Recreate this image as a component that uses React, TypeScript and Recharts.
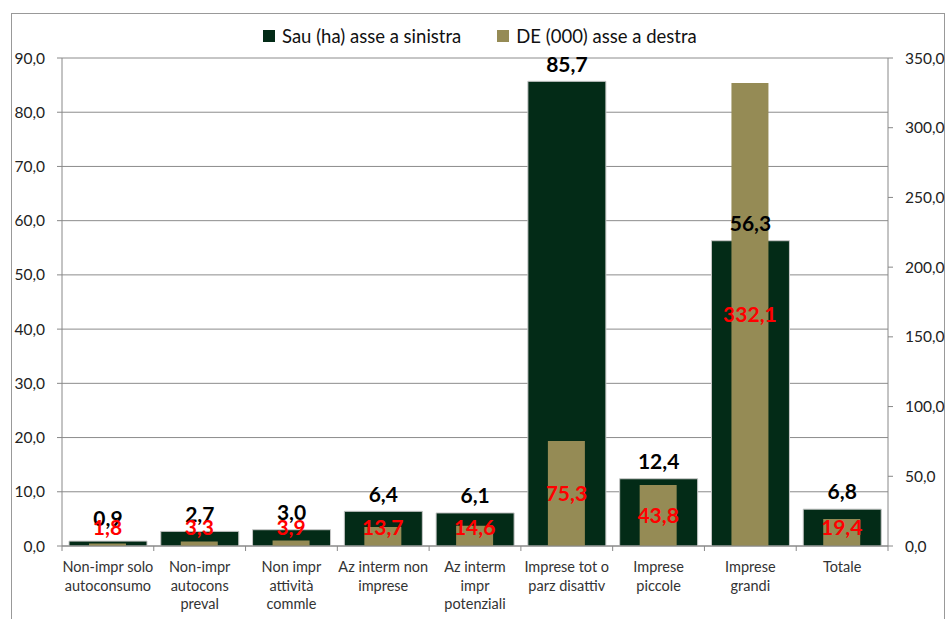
import React from "react";
import {
  BarChart,
  Bar,
  XAxis,
  YAxis,
  CartesianGrid,
  LabelList,
} from "recharts";

const categories = [
  "Non-impr solo\nautoconsumo",
  "Non-impr\nautocons\npreval",
  "Non impr\nattività\ncommle",
  "Az interm non\nimprese",
  "Az interm\nimpr\npotenziali",
  "Imprese tot o\nparz disattiv",
  "Imprese\npiccole",
  "Imprese\ngrandi",
  "Totale",
];
const sauValues = [0.9, 2.7, 3.0, 6.4, 6.1, 85.7, 12.4, 56.3, 6.8];
const deValues = [1.8, 3.3, 3.9, 13.7, 14.6, 75.3, 43.8, 332.1, 19.4];
const leftTicks = [0, 10, 20, 30, 40, 50, 60, 70, 80, 90];
const rightTicks = [0, 50, 100, 150, 200, 250, 300, 350];

const SAU_COLOR = "#032b17";
const DE_COLOR = "#958b55";
const FONT = "Lato, 'Open Sans', sans-serif";

const data = categories.map((cat, i) => ({
  cat,
  sau: sauValues[i],
  de: deValues[i],
}));

const fmt = (v: number) => v.toFixed(1).replace(".", ",");

// category names on several lines, with the small tick marks between categories
const CategoryTick = (props: any) => {
  const { x, y, payload, index } = props;
  const half = payload?.offset || 45.9;
  const lines = String(payload.value).split("\n");
  return (
    <g>
      <line x1={x - half} x2={x - half} y1={y - 8} y2={y - 3} stroke="#888" />
      {index === categories.length - 1 && (
        <line x1={x + half} x2={x + half} y1={y - 8} y2={y - 3} stroke="#888" />
      )}
      <text x={x} y={y + 18} textAnchor="middle" fontSize={14.5} fill="#333" fontFamily={FONT}>
        {lines.map((l, k) => (
          <tspan key={k} x={x} dy={k === 0 ? 0 : 18.5}>
            {l}
          </tspan>
        ))}
      </text>
    </g>
  );
};

// value above the green bar, kept clear of the axis for tiny bars
const SauLabel = (props: any) => {
  const { x, y, width, height, value } = props;
  const bottom = y + height;
  const cy = Math.min(y - 17, bottom - 27);
  return (
    <text
      x={x + width / 2}
      y={cy}
      dy="0.35em"
      textAnchor="middle"
      fontSize={21}
      fontWeight="bold"
      fill="#000"
      fontFamily={FONT}
    >
      {fmt(value)}
    </text>
  );
};

// value centred in the olive bar, lifted when the bar is too short
const DeLabel = (props: any) => {
  const { x, y, width, height, value } = props;
  const bottom = y + height;
  const cy = Math.min(y + height / 2, bottom - 18);
  return (
    <text
      x={x + width / 2}
      y={cy}
      dy="0.35em"
      textAnchor="middle"
      fontSize={21}
      fontWeight="bold"
      fill="#ff0000"
      fontFamily={FONT}
    >
      {fmt(value)}
    </text>
  );
};

const LegendItem = ({ color, text }: { color: string; text: string }) => (
  <div style={{ display: "flex", alignItems: "center", marginRight: 36 }}>
    <div style={{ width: 12, height: 12, background: color, marginRight: 7 }} />
    <span>{text}</span>
  </div>
);

export default function App() {
  return (
    <div style={{ position: "absolute", left: 0, top: 0, width: 947, height: 619, overflow: "hidden", background: "#fff" }}>
      <div
        style={{
          position: "absolute",
          left: 11,
          top: 13,
          width: 932,
          height: 640,
          border: "1px solid #999",
        }}
      />
      <div
        style={{
          position: "absolute",
          left: 263,
          top: 25,
          display: "flex",
          fontFamily: FONT,
          fontSize: 18.5,
          color: "#111",
        }}
      >
        <LegendItem color={SAU_COLOR} text="Sau (ha) asse a sinistra" />
        <LegendItem color={DE_COLOR} text="DE (000) asse a destra" />
      </div>
      <div style={{ position: "absolute", left: 0, top: 0 }}>
        <BarChart
          width={947}
          height={619}
          data={data}
          margin={{ top: 58, right: 0, bottom: 3, left: 0 }}
          barCategoryGap={0}
        >
          <CartesianGrid yAxisId="left" xAxisId="a" vertical={false} stroke="#8c8c8c" />
          <XAxis
            xAxisId="a"
            dataKey="cat"
            height={70}
            interval={0}
            tickLine={false}
            axisLine={{ stroke: "#888" }}
            tick={<CategoryTick />}
          />
          <XAxis xAxisId="b" dataKey="cat" hide />
          <YAxis
            yAxisId="left"
            domain={[0, 90]}
            ticks={leftTicks}
            width={62}
            tickSize={5}
            tickMargin={12}
            tickFormatter={fmt}
            stroke="#888"
            tick={{ fill: "#222", fontSize: 15.5, fontFamily: FONT }}
          />
          <YAxis
            yAxisId="right"
            orientation="right"
            domain={[0, 350]}
            ticks={rightTicks}
            width={59}
            tickSize={5}
            tickMargin={12}
            tickFormatter={fmt}
            stroke="#888"
            tick={{ fill: "#222", fontSize: 15.5, fontFamily: FONT, textAnchor: "start" }}
          />
          <Bar
            dataKey="sau"
            xAxisId="a"
            yAxisId="left"
            barSize={78}
            fill={SAU_COLOR}
            stroke="#c8c8c8"
            strokeWidth={1}
            isAnimationActive={false}
          >
            <LabelList dataKey="sau" content={<SauLabel />} />
          </Bar>
          <Bar
            dataKey="de"
            xAxisId="b"
            yAxisId="right"
            barSize={37}
            fill={DE_COLOR}
            isAnimationActive={false}
          >
            <LabelList dataKey="de" content={<DeLabel />} />
          </Bar>
        </BarChart>
      </div>
    </div>
  );
}
